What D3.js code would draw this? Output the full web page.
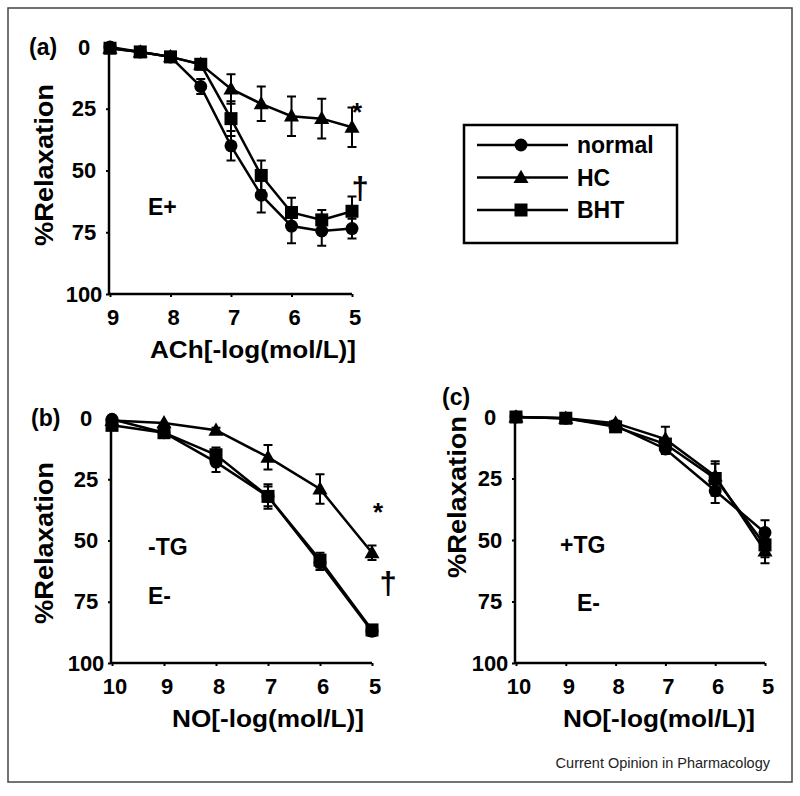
<!DOCTYPE html>
<html><head><meta charset="utf-8">
<script src="https://cdn.jsdelivr.net/npm/d3@7"></script>
<style>
body{margin:0;background:#fff;}
svg{display:block;font-family:"Liberation Sans",Arial,sans-serif;}
</style></head>
<body><svg id="chart" width="800" height="796"></svg>
<script>
// ---- data ----
const seriesNames = ["normal", "HC", "BHT"];
const yTicks = [0, 25, 50, 75, 100];

const xA = [9, 8.5, 8, 7.5, 7, 6.5, 6, 5.5, 5];
const xTicksA = [9, 8, 7, 6, 5];
const aNormal = [0, 2, 4, 16, 40, 60, 72.5, 74.5, 73.5];
const aNormalErr = [0, 0, 1, 3, 6, 7, 7, 6, 4];
const aHC = [0.5, 2, 4, 7, 17, 23, 28, 29, 32.5];
const aHCErr = [0, 0, 1, 2, 6, 7, 8, 8, 8];
const aBHT = [0.5, 2, 4, 7, 29, 52, 67, 70, 66.5];
const aBHTErr = [0, 0, 1, 2, 7, 6, 6, 4, 6];

const xB = [10, 9, 8, 7, 6, 5];
const xTicksB = [10, 9, 8, 7, 6, 5];
const bNormal = [0.5, 6, 18, 32, 59, 87];
const bNormalErr = [0, 1, 4, 5, 3, 2];
const bHC = [1, 2, 5, 16, 29, 55];
const bHCErr = [0, 0, 1, 5, 6, 3];
const bBHT = [3, 6, 15, 32, 58, 86.5];
const bBHTErr = [0, 1, 3, 4, 3, 2];

const xC = [10, 9, 8, 7, 6, 5];
const cNormal = [0, 0.5, 3.5, 13, 30, 47];
const cNormalErr = [0, 0, 1, 2, 5, 5];
const cHC = [0, 0.5, 2.5, 9, 24, 54.5];
const cHCErr = [0, 0, 1, 5, 5, 5];
const cBHT = [0, 0.5, 4, 11, 25, 52];
const cBHTErr = [0, 0, 1, 2, 7, 5];

// ---- drawing ----
const svg = d3.select("#chart");
const FONT = '"Liberation Sans",Arial,sans-serif';

svg.append("rect").attr("x", 8).attr("y", 8).attr("width", 784).attr("height", 774)
  .attr("fill", "none").attr("stroke", "#444").attr("stroke-width", 1.5);

function marker(g, type, x, y, s) {
  if (type === "normal") {
    g.append("circle").attr("cx", x).attr("cy", y).attr("r", s * 0.5).attr("fill", "#000");
  } else if (type === "HC") {
    const h = s * 1.0;
    g.append("path").attr("d", `M${x},${y - h * 0.6}L${x + h * 0.58},${y + h * 0.42}L${x - h * 0.58},${y + h * 0.42}Z`).attr("fill", "#000");
  } else {
    g.append("rect").attr("x", x - s * 0.5).attr("y", y - s * 0.5).attr("width", s).attr("height", s).attr("fill", "#000");
  }
}

function panel(cfg) {
  const x = d3.scaleLinear().domain(cfg.xDomain).range(cfg.xRange);
  const y = d3.scaleLinear().domain([0, 100]).range(cfg.yRange);
  const g = svg.append("g");
  const ax0 = cfg.xRange[0] - 1;
  // axes
  const yAxis = d3.axisLeft(y).tickValues(yTicks).tickSize(3).tickFormat("");
  g.append("g").attr("transform", `translate(${ax0},0)`).call(yAxis)
    .call(s => { s.select(".domain").attr("stroke-width", 2.5).attr("d", `M0,${cfg.yRange[0]}V${cfg.yRange[1]}`); s.selectAll("line").attr("stroke-width", 2); });
  const xAxis = d3.axisBottom(x).tickValues(cfg.xTicks).tickSize(3).tickFormat("");
  g.append("g").attr("transform", `translate(0,${cfg.yRange[1]})`).call(xAxis)
    .call(s => { s.select(".domain").attr("stroke-width", 2.5).attr("d", `M${ax0},0H${cfg.xRange[1]}`); s.selectAll("line").attr("stroke-width", 2); });
  // tick labels
  g.selectAll("text.yt").data(yTicks).enter().append("text")
    .attr("x", ax0 - 25).attr("y", d => y(d)).attr("text-anchor", "middle")
    .attr("dominant-baseline", "central").attr("font-size", 22).attr("font-weight", "bold")
    .text(d => d);
  g.selectAll("text.xt").data(cfg.xTicks).enter().append("text")
    .attr("x", d => x(d) + 3).attr("y", cfg.yRange[1] + 23).attr("text-anchor", "middle")
    .attr("dominant-baseline", "central").attr("font-size", 22).attr("font-weight", "bold")
    .text(d => d);
  // axis titles
  g.append("text").attr("x", cfg.xTitle[0]).attr("y", cfg.xTitle[1])
    .attr("font-size", 23).attr("font-weight", "bold")
    .attr("textLength", cfg.xTitle[2]).attr("lengthAdjust", "spacingAndGlyphs")
    .text(cfg.xLabel);
  g.append("text").attr("transform", `translate(${cfg.yTitle[0]},${cfg.yTitle[1]}) rotate(-90)`)
    .attr("text-anchor", "middle").attr("dominant-baseline", "central")
    .attr("font-size", 26).attr("font-weight", "bold")
    .attr("textLength", 162).attr("lengthAdjust", "spacingAndGlyphs")
    .text("%Relaxation");
  g.append("text").attr("x", cfg.tag[0]).attr("y", cfg.tag[1]).attr("dominant-baseline", "central")
    .attr("font-size", 23).attr("font-weight", "bold").text(cfg.tag[2]);
  cfg.notes.forEach(n => {
    g.append("text").attr("x", n[0]).attr("y", n[1]).attr("text-anchor", n[4] || "start")
      .attr("dominant-baseline", "central").attr("font-size", n[3]).attr("font-weight", "bold").text(n[2]);
  });
  // series
  const line = d3.line().x(d => x(d.x)).y(d => y(d.v));
  cfg.series.forEach(s => {
    const pts = cfg.xs.map((xv, i) => ({x: xv, v: s.vals[i], e: s.err[i]}));
    g.append("path").datum(pts).attr("d", line).attr("fill", "none").attr("stroke", "#000").attr("stroke-width", 2.5);
    pts.forEach(p => {
      if (p.e > 0) {
        const px = x(p.x), y1 = y(p.v - p.e), y2 = y(p.v + p.e);
        g.append("path").attr("d", `M${px},${y1}V${y2}M${px - 4.5},${y1}H${px + 4.5}M${px - 4.5},${y2}H${px + 4.5}`)
          .attr("stroke", "#000").attr("stroke-width", 2).attr("fill", "none");
      }
    });
    pts.forEach(p => marker(g, s.name, x(p.x), y(p.v), 13));
  });
}

panel({
  xDomain: [9, 5], xRange: [110, 352], yRange: [47, 294], xTicks: xTicksA, xs: xA,
  xLabel: "ACh[-log(mol/L)]", xTitle: [150, 358, 206], yTitle: [44, 165],
  tag: [29, 47, "(a)"],
  notes: [[148, 207, "E+", 23], [357, 112, "*", 26, "middle"], [360, 188, "\u2020", 31, "middle"]],
  series: [
    {name: "normal", vals: aNormal, err: aNormalErr},
    {name: "HC", vals: aHC, err: aHCErr},
    {name: "BHT", vals: aBHT, err: aBHTErr}
  ]
});
panel({
  xDomain: [10, 5], xRange: [112, 372], yRange: [418, 663], xTicks: xTicksB, xs: xB,
  xLabel: "NO[-log(mol/L)]", xTitle: [172, 727, 192], yTitle: [44, 543],
  tag: [31, 418, "(b)"],
  notes: [[148, 547, "-TG", 23], [148, 596, "E-", 23], [378, 512, "*", 26, "middle"], [388, 583, "\u2020", 31, "middle"]],
  series: [
    {name: "normal", vals: bNormal, err: bNormalErr},
    {name: "HC", vals: bHC, err: bHCErr},
    {name: "BHT", vals: bBHT, err: bBHTErr}
  ]
});
panel({
  xDomain: [10, 5], xRange: [516, 765], yRange: [417, 663], xTicks: xTicksB, xs: xC,
  xLabel: "NO[-log(mol/L)]", xTitle: [563, 727, 192], yTitle: [457, 497],
  tag: [442, 397, "(c)"],
  notes: [[560, 545, "+TG", 23], [577, 603, "E-", 23]],
  series: [
    {name: "normal", vals: cNormal, err: cNormalErr},
    {name: "HC", vals: cHC, err: cHCErr},
    {name: "BHT", vals: cBHT, err: cBHTErr}
  ]
});

// legend
const lg = svg.append("g");
lg.append("rect").attr("x", 464).attr("y", 125).attr("width", 213).attr("height", 118)
  .attr("fill", "none").attr("stroke", "#000").attr("stroke-width", 2.5);
const legY = d3.scalePoint().domain(seriesNames).range([145, 210]);
seriesNames.forEach(n => {
  const yy = legY(n);
  lg.append("line").attr("x1", 477).attr("x2", 568).attr("y1", yy).attr("y2", yy).attr("stroke", "#000").attr("stroke-width", 2.5);
  marker(lg, n, 521, yy, 13);
  lg.append("text").attr("x", 577).attr("y", yy).attr("dominant-baseline", "central")
    .attr("font-size", 23).attr("font-weight", "bold").text(n);
});

svg.append("text").attr("x", 770).attr("y", 768).attr("text-anchor", "end")
  .attr("font-size", 14.5).attr("font-family", FONT).attr("fill", "#222").text("Current Opinion in Pharmacology");
</script></body></html>
